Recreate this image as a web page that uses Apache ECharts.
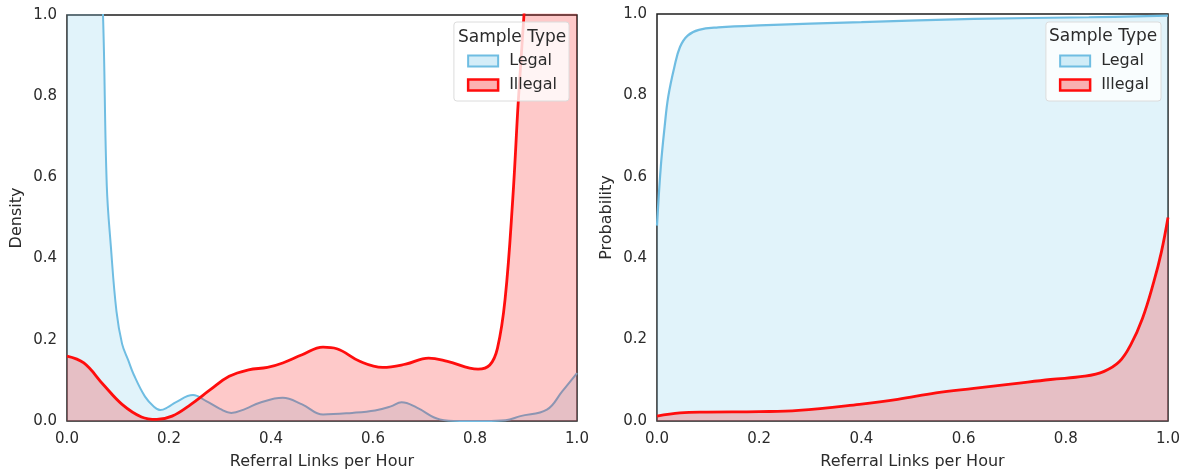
<!DOCTYPE html>
<html>
<head>
<meta charset="utf-8">
<script src="https://cdn.jsdelivr.net/npm/echarts@6/dist/echarts.min.js"></script>
<style>
html, body { margin: 0; padding: 0; background: #fff; }
#chart { width: 1192px; height: 475px; }
</style>
</head>
<body>
<div id="chart"></div>
<script>
// tick labels shared by both panels
var xTicks = [0, 0.2, 0.4, 0.6, 0.8, 1.0];
var yTicks = [0, 0.2, 0.4, 0.6, 0.8, 1.0];
var seriesNames = ["Legal", "Illegal"];

// left panel: density, [x, y]
var densityLegal = [
	[0.0, 3.2], [0.02, 2.6], [0.04, 1.9], [0.06, 1.3], [0.0706, 1.0], [0.078, 0.58],
	[0.086, 0.43], [0.097, 0.27], [0.108, 0.19], [0.12, 0.15], [0.131, 0.114], [0.153, 0.06],
	[0.17, 0.036], [0.183, 0.027], [0.198, 0.034], [0.213, 0.046], [0.247, 0.064],
	[0.273, 0.049], [0.3, 0.03], [0.322, 0.02], [0.35, 0.03], [0.378, 0.045], [0.423, 0.057],
	[0.461, 0.041], [0.502, 0.016], [0.559, 0.02], [0.604, 0.026], [0.635, 0.036],
	[0.656, 0.046], [0.686, 0.033], [0.731, 0.004], [0.77, 0], [0.82, 0], [0.86, 0.002],
	[0.889, 0.012], [0.941, 0.028], [0.971, 0.073], [1.0, 0.118]
];
var densityIllegal = [
	[0.0, 0.16], [0.033, 0.143], [0.071, 0.09], [0.108, 0.041], [0.146, 0.01], [0.176, 0.004],
	[0.206, 0.012], [0.243, 0.041], [0.281, 0.077], [0.318, 0.11], [0.356, 0.126],
	[0.393, 0.132], [0.423, 0.143], [0.461, 0.163], [0.502, 0.182], [0.529, 0.178],
	[0.574, 0.147], [0.619, 0.132], [0.664, 0.14], [0.709, 0.155], [0.746, 0.147],
	[0.806, 0.128], [0.829, 0.138], [0.844, 0.179], [0.859, 0.3], [0.874, 0.546],
	[0.885, 0.79], [0.896, 1.0], [0.92, 1.5], [0.96, 2.2], [1.0, 2.6]
];

// right panel: cumulative probability, [x, y]
var probLegal = [
	[0.0, 0.48], [0.0075, 0.626], [0.015, 0.724], [0.022, 0.797], [0.034, 0.87],
	[0.045, 0.919], [0.06, 0.947], [0.082, 0.961], [0.12, 0.967], [0.2, 0.972],
	[0.4, 0.98], [0.62, 0.988], [0.845, 0.992], [1.0, 0.996]
];
var probIllegal = [
	[0.0, 0.012], [0.045, 0.02], [0.097, 0.022], [0.2, 0.023], [0.277, 0.026], [0.396, 0.041],
	[0.471, 0.053], [0.546, 0.069], [0.62, 0.08], [0.696, 0.091], [0.77, 0.102],
	[0.837, 0.11], [0.875, 0.122], [0.905, 0.146], [0.927, 0.187], [0.95, 0.252],
	[0.972, 0.341], [0.987, 0.415], [1.0, 0.5]
];

var blueLine = "#6fbde2";
var blueFill = "rgba(135,206,235,0.36)";
var redLine = "#ff0d0d";
var redFill = "rgba(250,0,0,0.3)";
var txt = "#2b2b2b";
var font = "DejaVu Sans";

function xAx(idx) {
	return {
		type: "value", gridIndex: idx, min: 0, max: 1, interval: 0.2,
		name: "Referral Links per Hour", nameLocation: "middle", nameGap: 33,
		nameTextStyle: { fontFamily: font, fontSize: 16, color: txt },
		axisLine: { show: false }, axisTick: { show: false }, splitLine: { show: false },
		axisLabel: {
			margin: 11, fontFamily: font, fontSize: 15, color: txt,
			customValues: xTicks,
			formatter: function(v) { return v.toFixed(1) }
		}
	}
}
function yAx(idx, name) {
	return {
		type: "value", gridIndex: idx, min: 0, max: 1, interval: 0.2,
		name: name, nameLocation: "middle", nameGap: 42,
		nameTextStyle: { fontFamily: font, fontSize: 16, color: txt },
		axisLine: { show: false }, axisTick: { show: false }, splitLine: { show: false },
		axisLabel: {
			margin: 10, fontFamily: font, fontSize: 15, color: txt,
			customValues: yTicks,
			formatter: function(v) { return v.toFixed(1) }
		}
	}
}
function ser(idx, name, data, line, fill, w, z) {
	return {
		type: "line", name: name, xAxisIndex: idx, yAxisIndex: idx, z: z,
		data: data, smooth: 0.4, symbol: "none", clip: true,
		lineStyle: { color: line, width: w },
		itemStyle: { color: line },
		areaStyle: { color: fill, origin: "start" }
	}
}
function leg(idx, right) {
	return {
		orient: "vertical", right: right, top: 22,
		padding: [31, 12, 8, 13], itemGap: 8,
		backgroundColor: "rgba(255,255,255,0.8)", borderColor: "#dcdcdc", borderWidth: 1, borderRadius: 3,
		itemWidth: 30, itemHeight: 11, icon: "rect",
		textStyle: { fontFamily: font, fontSize: 16, color: txt, padding: [0, 0, 0, 6] },
		data: [
			{ name: seriesNames[0], itemStyle: { color: blueFill, borderColor: blueLine, borderWidth: 2 } },
			{ name: seriesNames[1], itemStyle: { color: redFill, borderColor: redLine, borderWidth: 2.5 } }
		]
	}
}

var chart = echarts.init(document.getElementById("chart"));
var option = {
	animation: false,
	title: [
		{ text: "Sample Type", left: 453, top: 24, textStyle: { fontFamily: font, fontSize: 17, fontWeight: "normal", color: txt } },
		{ text: "Sample Type", left: 1044, top: 23, textStyle: { fontFamily: font, fontSize: 17, fontWeight: "normal", color: txt } }
	],
	legend: [leg(0, 623), leg(1, 31)],
	grid: [
		{ left: 67, top: 15, width: 510, height: 409, show: true, borderColor: "#1e1e1e", borderWidth: 1.5, backgroundColor: "#fff" },
		{ left: 657, top: 14, width: 511, height: 410, show: true, borderColor: "#1e1e1e", borderWidth: 1.5, backgroundColor: "#fff" }
	],
	xAxis: [xAx(0), xAx(1)],
	yAxis: [yAx(0, "Density"), yAx(1, "Probability")],
	series: [
		ser(0, "Legal", densityLegal, blueLine, blueFill, 2, 2),
		ser(0, "Illegal", densityIllegal, redLine, redFill, 2.8, 3),
		ser(1, "Legal", probLegal, blueLine, blueFill, 2.2, 2),
		ser(1, "Illegal", probIllegal, redLine, redFill, 2.8, 3)
	]
};
chart.setOption(option);
</script>
</body>
</html>
